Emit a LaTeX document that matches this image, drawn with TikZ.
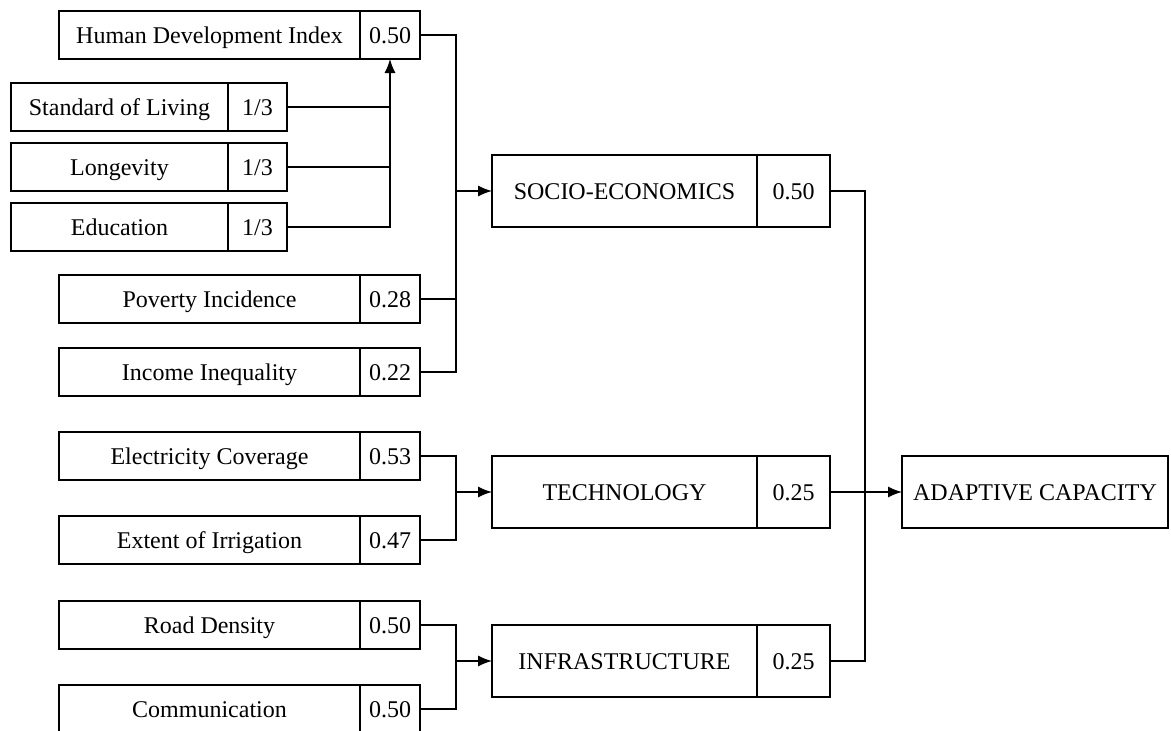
\documentclass[tikz,border=0pt]{standalone}
\usepackage{fontspec}
\setmainfont{Liberation Serif}
\usetikzlibrary{arrows.meta,%
		calc,%
		positioning}

\tikzset{
  item/.style={draw, line width=1.3pt, minimum height=48pt, inner sep=0pt, outer sep=0pt,
    text height=16pt, text depth=0pt},
  weight/.style={item, minimum width=60pt},
  group/.style={item, minimum height=72pt},
  link/.style={line width=1.3pt},
  arr/.style={link, -{Latex[length=14pt,width=11pt]}}
}

\begin{document}
\begin{tikzpicture}[x=1pt,y=-1pt,font=\fontsize{24}{28}\selectfont]
  \useasboundingbox (0,0) rectangle (1171,731);

  % indicators
  \node[item, minimum width=301pt] (hdi) at (209.5,35) {Human Development Index};
  \node[weight, right=0pt of hdi] (hdiw) {0.50};
  \node[item, minimum width=217pt] (sol) at (119.5,107) {Standard of Living};
  \node[weight, minimum width=59pt, right=0pt of sol] (solw) {1/3};
  \node[item, minimum width=217pt] (lon) at (119.5,167) {Longevity};
  \node[weight, minimum width=59pt, right=0pt of lon] (lonw) {1/3};
  \node[item, minimum width=217pt] (edu) at (119.5,227) {Education};
  \node[weight, minimum width=59pt, right=0pt of edu] (eduw) {1/3};
  \node[item, minimum width=301pt] (pov) at (209.5,299) {Poverty Incidence};
  \node[weight, right=0pt of pov] (povw) {0.28};
  \node[item, minimum width=301pt] (inc) at (209.5,372) {Income Inequality};
  \node[weight, right=0pt of inc] (incw) {0.22};
  \node[item, minimum width=301pt] (ele) at (209.5,456) {Electricity Coverage};
  \node[weight, right=0pt of ele] (elew) {0.53};
  \node[item, minimum width=301pt] (irr) at (209.5,540) {Extent of Irrigation};
  \node[weight, right=0pt of irr] (irrw) {0.47};
  \node[item, minimum width=301pt] (road) at (209.5,625) {Road Density};
  \node[weight, right=0pt of road] (roadw) {0.50};
  \node[item, minimum width=301pt] (com) at (209.5,709) {Communication};
  \node[weight, right=0pt of com] (comw) {0.50};

  % components
  \node[group, minimum width=265pt] (socio) at (624.5,191) {SOCIO-ECONOMICS};
  \node[group, minimum width=73pt, right=0pt of socio] (sociow) {0.50};
  \node[group, minimum width=265pt] (tech) at (624.5,492) {TECHNOLOGY};
  \node[group, minimum width=73pt, right=0pt of tech] (techw) {0.25};
  \node[group, minimum width=265pt] (infra) at (624.5,661) {INFRASTRUCTURE};
  \node[group, minimum width=73pt, right=0pt of infra] (infraw) {0.25};
  \node[group, minimum width=266pt] (ac) at (1035,492) {ADAPTIVE CAPACITY};

  \coordinate (sejoin) at (456,191);
  \coordinate (tejoin) at (456,492);
  \coordinate (injoin) at (456,661);
  \coordinate (acjoin) at (865,492);

  \draw[link] (solw.east) -- (solw.east -| hdiw.south);
  \draw[link] (lonw.east) -- (lonw.east -| hdiw.south);
  \draw[arr] (eduw.east) -| (hdiw.south);

  \draw[link] (hdiw.east) -| (sejoin);
  \draw[link] (povw.east) -| (sejoin);
  \draw[link] (incw.east) -| (sejoin);
  \draw[arr] (sejoin) -- (socio.west);

  \draw[link] (elew.east) -| (tejoin);
  \draw[link] (irrw.east) -| (tejoin);
  \draw[arr] (tejoin) -- (tech.west);

  \draw[link] (roadw.east) -| (injoin);
  \draw[link] (comw.east) -| (injoin);
  \draw[arr] (injoin) -- (infra.west);

  \draw[link] (sociow.east) -| (acjoin);
  \draw[link] (infraw.east) -| (acjoin);
  \draw[arr] (techw.east) -- (ac.west);

\end{tikzpicture}
\end{document}
